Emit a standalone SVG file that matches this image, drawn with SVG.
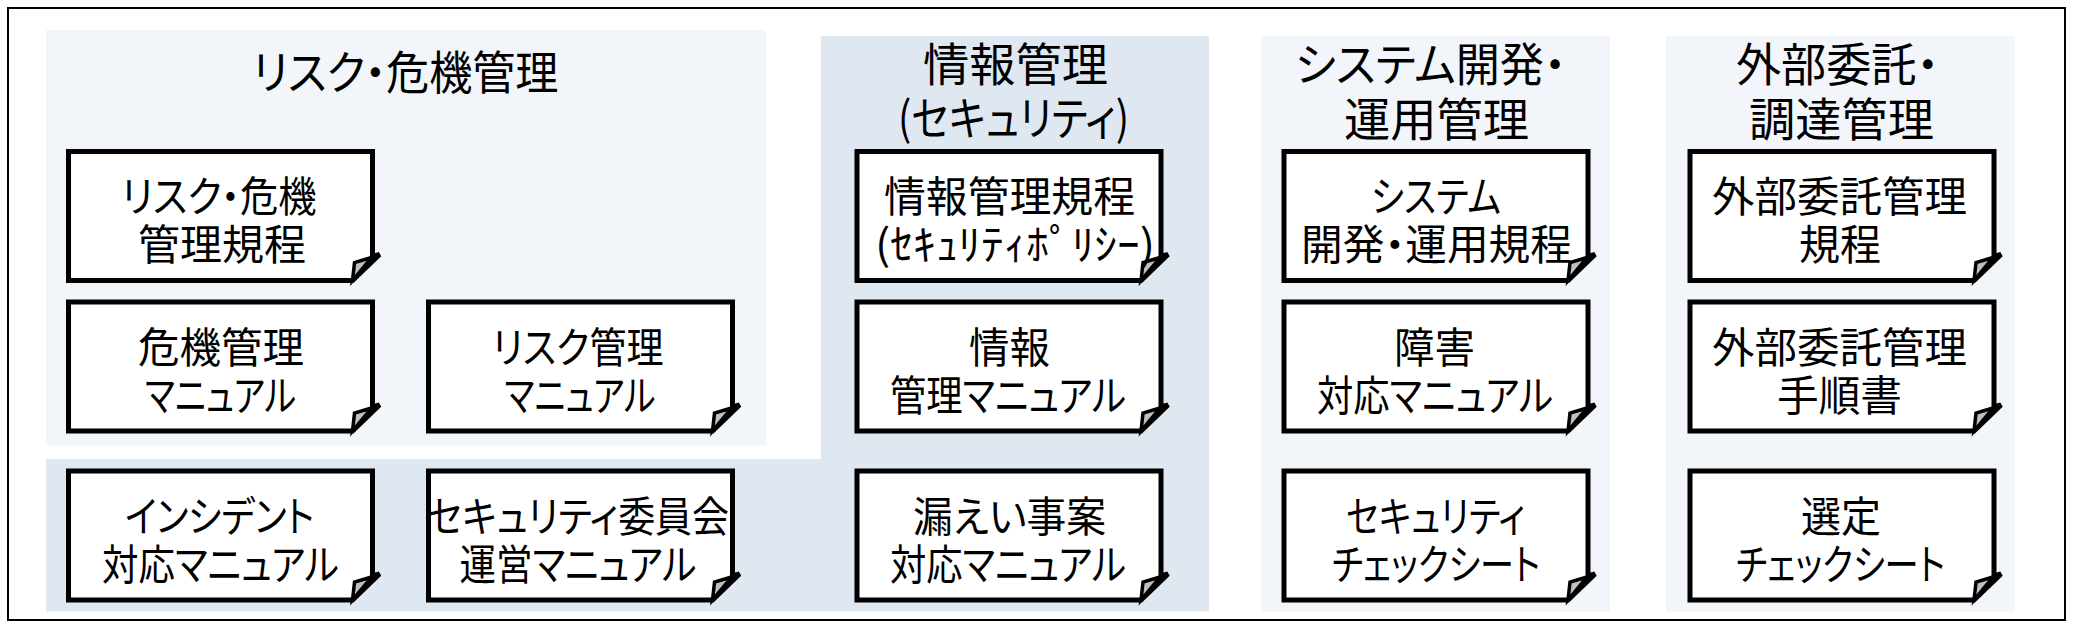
<svg xmlns="http://www.w3.org/2000/svg" width="2075" height="635" viewBox="0 0 2075 635">
<style>
.frame{fill:#FFFFFF;stroke:#000000;stroke-width:2}
.light{fill:#F2F5F9}
.dark{fill:#DFE8F1}
.doc{fill:#FFFFFF;stroke:#000000;stroke-width:5;stroke-linejoin:miter}
.flap{fill:#BFBFBF;stroke:#000000;stroke-width:3.5;stroke-linejoin:miter}
text{font-family:"Noto Sans CJK JP","Noto Sans CJK SC",sans-serif;fill:#000000;text-anchor:middle;font-feature-settings:"palt" 1}
.title{font-size:46px}
.label{font-size:42px}
</style>
<defs>
<g id="docshape">
<path class="doc" d="M0,0 H304 V105 L311,103 L284,129 H0 Z"/>
<path class="flap" d="M303,106 L286,111 L284,129 Z"/>
</g>
</defs>
<rect class="frame" x="8" y="8" width="2057" height="612"/>
<g id="panel-risk">
<rect class="light" x="46" y="30" width="720" height="415.5"/>
<text class="title" x="405.5" y="89" textLength="306" lengthAdjust="spacingAndGlyphs">リスク・危機管理</text>
</g>
<g id="panel-info">
<path class="dark" d="M821,36 H1209 V611.5 H46 V459 H821 Z"/>
<text class="title"><tspan x="1015.5" y="81" textLength="185" lengthAdjust="spacingAndGlyphs">情報管理</tspan><tspan x="1013.5" y="135" textLength="231" lengthAdjust="spacingAndGlyphs">(セキュリティ)</tspan></text>
</g>
<g id="panel-system">
<rect class="light" x="1261" y="36" width="349" height="575.5"/>
<text class="title"><tspan x="1430.5" y="80.5" textLength="271" lengthAdjust="spacingAndGlyphs">システム開発・</tspan><tspan x="1436.5" y="135.5" textLength="185" lengthAdjust="spacingAndGlyphs">運用管理</tspan></text>
</g>
<g id="panel-outsource">
<rect class="light" x="1666" y="36" width="349" height="575.5"/>
<text class="title"><tspan x="1837.5" y="80.5" textLength="203" lengthAdjust="spacingAndGlyphs">外部委託・</tspan><tspan x="1841.5" y="135.5" textLength="185" lengthAdjust="spacingAndGlyphs">調達管理</tspan></text>
</g>
<g id="connectors"/>
<g id="doc-risk-rule">
<use href="#docshape" x="68.5" y="151.5"/>
<text class="label"><tspan x="219" y="212" textLength="195" lengthAdjust="spacingAndGlyphs">リスク・危機</tspan><tspan x="222" y="260" textLength="168" lengthAdjust="spacingAndGlyphs">管理規程</tspan></text>
</g>
<g id="doc-crisis-manual">
<use href="#docshape" x="68.5" y="302"/>
<text class="label"><tspan x="221" y="362.5" textLength="166" lengthAdjust="spacingAndGlyphs">危機管理</tspan><tspan x="220.5" y="410.5" textLength="151" lengthAdjust="spacingAndGlyphs">マニュアル</tspan></text>
</g>
<g id="doc-risk-manual">
<use href="#docshape" x="428.5" y="302"/>
<text class="label"><tspan x="578" y="362.5" textLength="171" lengthAdjust="spacingAndGlyphs">リスク管理</tspan><tspan x="580" y="410.5" textLength="151" lengthAdjust="spacingAndGlyphs">マニュアル</tspan></text>
</g>
<g id="doc-incident-manual">
<use href="#docshape" x="68.5" y="471"/>
<text class="label"><tspan x="219.5" y="531.5" textLength="189" lengthAdjust="spacingAndGlyphs">インシデント</tspan><tspan x="220.5" y="579.5" textLength="237" lengthAdjust="spacingAndGlyphs">対応マニュアル</tspan></text>
</g>
<g id="doc-committee-manual">
<use href="#docshape" x="428.5" y="471"/>
<text class="label"><tspan x="578" y="531.5" textLength="302" lengthAdjust="spacingAndGlyphs">セキュリティ委員会</tspan><tspan x="578" y="579.5" textLength="237" lengthAdjust="spacingAndGlyphs">運営マニュアル</tspan></text>
</g>
<g id="doc-info-rule">
<use href="#docshape" x="857" y="151.5"/>
<text class="label"><tspan x="1009.5" y="212" textLength="251" lengthAdjust="spacingAndGlyphs">情報管理規程</tspan><tspan x="1015" y="260" textLength="280" lengthAdjust="spacingAndGlyphs">(ｾｷｭﾘﾃｨﾎﾟﾘｼｰ)</tspan></text>
</g>
<g id="doc-info-manual">
<use href="#docshape" x="857" y="302"/>
<text class="label"><tspan x="1009.5" y="362.5" textLength="81" lengthAdjust="spacingAndGlyphs">情報</tspan><tspan x="1008" y="410.5" textLength="236" lengthAdjust="spacingAndGlyphs">管理マニュアル</tspan></text>
</g>
<g id="doc-leak-manual">
<use href="#docshape" x="857" y="471"/>
<text class="label"><tspan x="1009.5" y="531.5" textLength="193" lengthAdjust="spacingAndGlyphs">漏えい事案</tspan><tspan x="1008" y="579.5" textLength="236" lengthAdjust="spacingAndGlyphs">対応マニュアル</tspan></text>
</g>
<g id="doc-system-rule">
<use href="#docshape" x="1284" y="151.5"/>
<text class="label"><tspan x="1436" y="212" textLength="130" lengthAdjust="spacingAndGlyphs">システム</tspan><tspan x="1436.5" y="260" textLength="271" lengthAdjust="spacingAndGlyphs">開発・運用規程</tspan></text>
</g>
<g id="doc-failure-manual">
<use href="#docshape" x="1284" y="302"/>
<text class="label"><tspan x="1434.5" y="362.5" textLength="81" lengthAdjust="spacingAndGlyphs">障害</tspan><tspan x="1435" y="410.5" textLength="236" lengthAdjust="spacingAndGlyphs">対応マニュアル</tspan></text>
</g>
<g id="doc-security-check">
<use href="#docshape" x="1284" y="471"/>
<text class="label"><tspan x="1435.5" y="531.5" textLength="179" lengthAdjust="spacingAndGlyphs">セキュリティ</tspan><tspan x="1436" y="579.5" textLength="208" lengthAdjust="spacingAndGlyphs">チェックシート</tspan></text>
</g>
<g id="doc-outsource-rule">
<use href="#docshape" x="1690" y="151.5"/>
<text class="label"><tspan x="1839.5" y="212" textLength="255" lengthAdjust="spacingAndGlyphs">外部委託管理</tspan><tspan x="1840" y="260" textLength="82" lengthAdjust="spacingAndGlyphs">規程</tspan></text>
</g>
<g id="doc-outsource-procedure">
<use href="#docshape" x="1690" y="302"/>
<text class="label"><tspan x="1839.5" y="362.5" textLength="255" lengthAdjust="spacingAndGlyphs">外部委託管理</tspan><tspan x="1839.5" y="410.5" textLength="125" lengthAdjust="spacingAndGlyphs">手順書</tspan></text>
</g>
<g id="doc-selection-check">
<use href="#docshape" x="1690" y="471"/>
<text class="label"><tspan x="1841" y="531.5" textLength="80" lengthAdjust="spacingAndGlyphs">選定</tspan><tspan x="1840.5" y="579.5" textLength="209" lengthAdjust="spacingAndGlyphs">チェックシート</tspan></text>
</g>
</svg>
